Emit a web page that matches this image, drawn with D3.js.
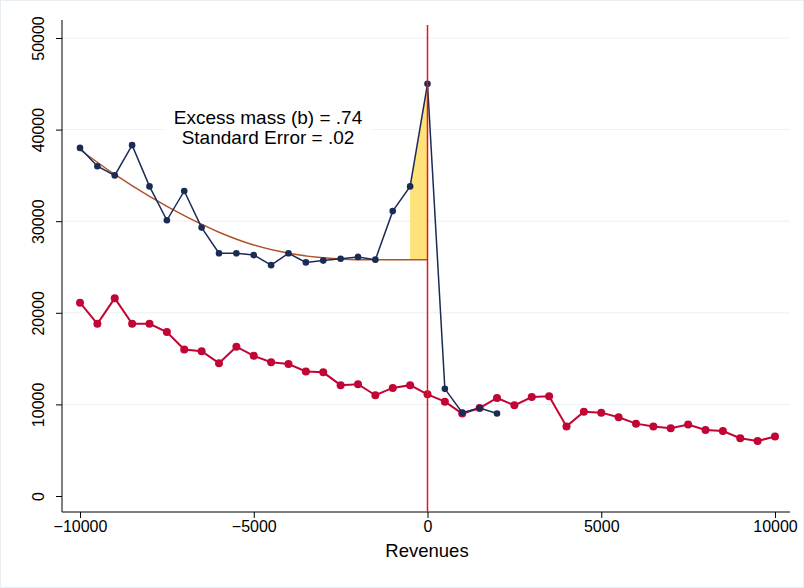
<!DOCTYPE html>
<html>
<head>
<script src="https://cdn.jsdelivr.net/npm/d3@7"></script>
<style>
body { margin: 0; background: white; font-family: "Liberation Sans", Arial, sans-serif; }
</style>
</head>
<body>
<svg id="chart" width="804" height="588"></svg>
<script>
// bins and series values
var binsBlue = d3.range(-10000, 2001, 500);
var blueVals = [38.0,36.0,35.0,38.3,33.8,30.1,33.3,29.3,26.5,26.5,26.3,25.2,26.5,25.5,25.7,25.9,26.1,25.8,31.1,33.8,45.0,11.7,9.1,9.6,9.0];
var binsRed = d3.range(-10000, 10001, 500);
var redVals = [21.1,18.8,21.6,18.8,18.8,17.9,16.0,15.8,14.5,16.3,15.3,14.6,14.4,13.6,13.5,12.1,12.2,11.0,11.8,12.1,11.1,
  10.3,9.0,9.6,10.7,9.9,10.8,10.9,7.6,9.2,9.1,8.6,7.9,7.6,7.4,7.8,7.2,7.1,6.3,6.0,6.5];
var fitX = [-10000,-9000,-8000,-7000,-6000,-5000,-4000,-3000,-2000,-1000,-500,0];
var fitVals = [37.8,35.1,32.7,30.6,28.8,27.4,26.5,26.0,25.8,25.8,25.8,25.8];
var xTicks = [-10000,-5000,0,5000,10000];
var yTicks = [0,10000,20000,30000,40000,50000];
var noteLines = ["Excess mass (b) = .74", "Standard Error = .02"];

var svg = d3.select("#chart");
var x = d3.scaleLinear().domain([-10000,10000]).range([80,775]);
var y = d3.scaleLinear().domain([0,50000]).range([496,38]);

svg.append("rect").attr("x",0.5).attr("y",0.5).attr("width",803).attr("height",587).attr("fill","white").attr("stroke","#e6eef2");

// grid
svg.append("g").selectAll("line").data(yTicks.slice(1)).join("line")
  .attr("x1",62).attr("x2",790).attr("y1",d=>y(d)).attr("y2",d=>y(d))
  .attr("stroke","#eaf2f3").attr("stroke-width",1);

// axes
var gx = svg.append("g").attr("transform","translate(0,512)")
  .call(d3.axisBottom(x).tickValues(xTicks).tickSize(6).tickPadding(3).tickFormat(d=>d<0?"\u2212"+Math.abs(d):d));
gx.select(".domain").attr("d","M62,0H790");
gx.selectAll("text").attr("font-size",16).attr("font-family","Liberation Sans, Arial, sans-serif").attr("fill","black");
var gy = svg.append("g").attr("transform","translate(62,0)")
  .call(d3.axisLeft(y).tickValues(yTicks).tickSize(6).tickFormat(d=>d));
gy.select(".domain").attr("d","M0,20V512");
gy.selectAll(".tick text").attr("font-size",16).attr("font-family","Liberation Sans, Arial, sans-serif").attr("fill","black")
  .attr("transform","rotate(-90)").attr("x",0).attr("y",-18).attr("text-anchor","middle").attr("dy",0);

svg.append("text").attr("x",427).attr("y",557).attr("text-anchor","middle").attr("font-size",18.5).text("Revenues");

// yellow excess mass area
var blueMap = {}; binsBlue.forEach((b,i)=>blueMap[b]=blueVals[i]*1000);
var fitMap = {}; fitX.forEach((b,i)=>fitMap[b]=fitVals[i]*1000);
var areaBins = [-500,0];
svg.append("path").datum(areaBins)
  .attr("d", d3.area().x(d=>x(d)).y0(d=>y(fitMap[d])).y1(d=>y(blueMap[d])))
  .attr("fill","#ffe27a").attr("stroke","none");

// fitted curve
svg.append("path").datum(fitX.map((b,i)=>[b,fitVals[i]*1000]))
  .attr("d", d3.line().x(d=>x(d[0])).y(d=>y(d[1])).curve(d3.curveMonotoneX))
  .attr("fill","none").attr("stroke","#b0522a").attr("stroke-width",1.5);

// red series
var red = binsRed.map((b,i)=>[b,redVals[i]*1000]);
svg.append("path").datum(red).attr("d", d3.line().x(d=>x(d[0])).y(d=>y(d[1])))
  .attr("fill","none").attr("stroke","#c10534").attr("stroke-width",2);
svg.append("g").selectAll("circle").data(red).join("circle")
  .attr("cx",d=>x(d[0])).attr("cy",d=>y(d[1])).attr("r",4).attr("fill","#c10534");

// blue series
var blue = binsBlue.map((b,i)=>[b,blueVals[i]*1000]);
svg.append("path").datum(blue).attr("d", d3.line().x(d=>x(d[0])).y(d=>y(d[1])))
  .attr("fill","none").attr("stroke","#1a2b55").attr("stroke-width",1.5);
svg.append("g").selectAll("circle").data(blue).join("circle")
  .attr("cx",d=>x(d[0])).attr("cy",d=>y(d[1])).attr("r",3.3).attr("fill","#1a2b55");

// cutoff line
svg.append("line").attr("x1",x(0)).attr("x2",x(0)).attr("y1",25).attr("y2",512)
  .attr("stroke","#e8141c").attr("stroke-width",1.5);

// note
svg.append("rect").attr("x",164).attr("y",101).attr("width",208).attr("height",46).attr("fill","white");
svg.append("g").selectAll("text").data(noteLines).join("text")
  .attr("x",268).attr("y",(d,i)=>124+i*20).attr("text-anchor","middle").attr("font-size",19).text(d=>d);
</script>
</body>
</html>
